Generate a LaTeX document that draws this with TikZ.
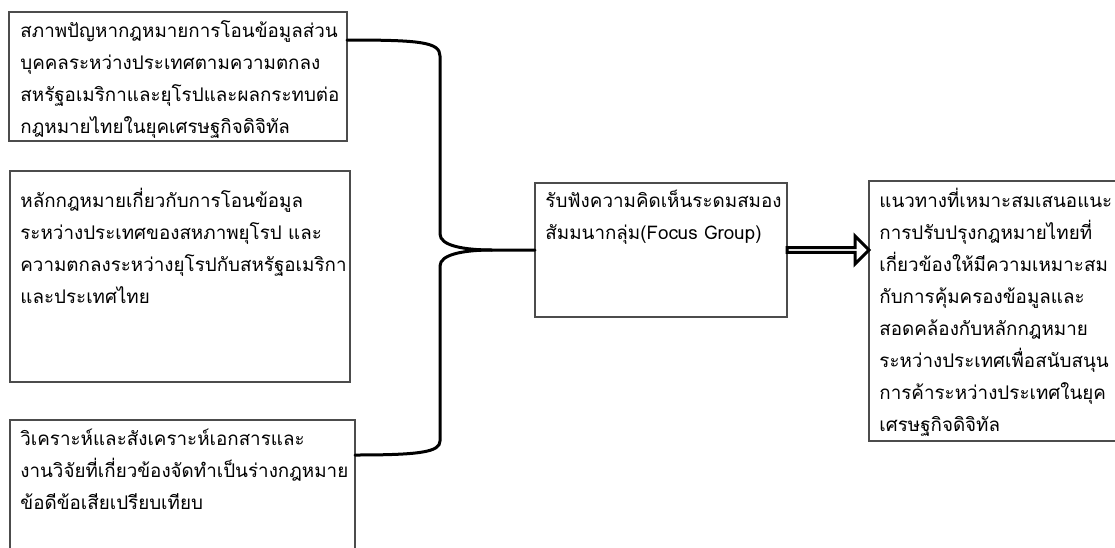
\documentclass[tikz,border=0pt]{standalone}
\usepackage{fontspec}
\newfontfamily\thaifont[Script=Thai]{Loma}
\usetikzlibrary{positioning,fit,shapes.arrows}

\newcommand{\topstrut}{\rule{0pt}{12pt}}

\begin{document}
\begin{tikzpicture}[x=0.5pt,y=-0.5pt,
box/.style={draw=black!70, line width=0.75pt, inner sep=0pt, outer sep=0pt},
txt/.style={anchor=north west, inner sep=0pt, align=left,
  font=\thaifont\fontsize{9.4}{16}\selectfont},
brace/.style={line width=1.5pt, line cap=round},
bigarrow/.style={single arrow, draw, line width=1.5pt, inner sep=0pt, outer sep=0pt,
  minimum height=41pt, minimum width=14pt, single arrow head extend=3.5pt,
  single arrow tip angle=90}]
\useasboundingbox (0,0) rectangle (1115,547);

\node[box, fit={(9,12) (347,141)}] (b1) {};
\node[box, fit={(10,171) (350,382)}] (b2) {};
\node[box, fit={(10,420) (355,570)}] (b3) {};
\node[box, fit={(535,183) (787,317)}] (b4) {};
\node[box, fit={(869,181) (1130,441)}] (b5) {};

\node[txt] (t1) at ([xshift=5.5pt,yshift=-0.5pt]b1.north west) {\topstrut สภาพปัญหากฎหมายการโอนข้อมูลส่วน\\
บุคคลระหว่างประเทศตามความตกลง\\
สหรัฐอเมริกาและยุโรปและผลกระทบต่อ\\
กฎหมายไทยในยุคเศรษฐกิจดิจิทัล};
\node[txt] (t2) at ([xshift=5pt,yshift=-6pt]b2.north west) {\topstrut หลักกฎหมายเกี่ยวกับการโอนข้อมูล\\
ระหว่างประเทศของสหภาพยุโรป และ\\
ความตกลงระหว่างยุโรปกับสหรัฐอเมริกา\\
และประเทศไทย};
\node[txt] (t3) at ([xshift=5pt,yshift=-0.5pt]b3.north west) {\topstrut วิเคราะห์และสังเคราะห์เอกสารและ\\
งานวิจัยที่เกี่ยวข้องจัดทำเป็นร่างกฎหมาย\\
ข้อดีข้อเสียเปรียบเทียบ};
\node[txt] (t4) at ([xshift=5pt]b4.north west) {\topstrut รับฟังความคิดเห็นระดมสมอง\\
สัมมนากลุ่ม(Focus Group)};
\node[txt] (t5) at ([xshift=5pt,yshift=-1pt]b5.north west) {\topstrut แนวทางที่เหมาะสมเสนอแนะ\\
การปรับปรุงกฎหมายไทยที่\\
เกี่ยวข้องให้มีความเหมาะสม\\
กับการคุ้มครองข้อมูลและ\\
สอดคล้องกับหลักกฎหมาย\\
ระหว่างประเทศเพื่อสนับสนุน\\
การค้าระหว่างประเทศในยุค\\
เศรษฐกิจดิจิทัล};

\coordinate (tip) at ([xshift=-21.5pt]b4.west);
\draw[brace] ([yshift=-14pt]b1.north east) .. controls (420,40) and (440,42) .. (440,56)
  -- (440,234) .. controls (440,246) and (465,250) .. (tip) -- (b4.west);
\draw[brace] (tip) .. controls (465,250) and (440,254) .. (440,266)
  -- (440,441) .. controls (440,452) and (420,455) .. ([yshift=-17.5pt]b3.north east);

\node[bigarrow, right=0pt of b4] (arr) {};
\end{tikzpicture}
\end{document}
